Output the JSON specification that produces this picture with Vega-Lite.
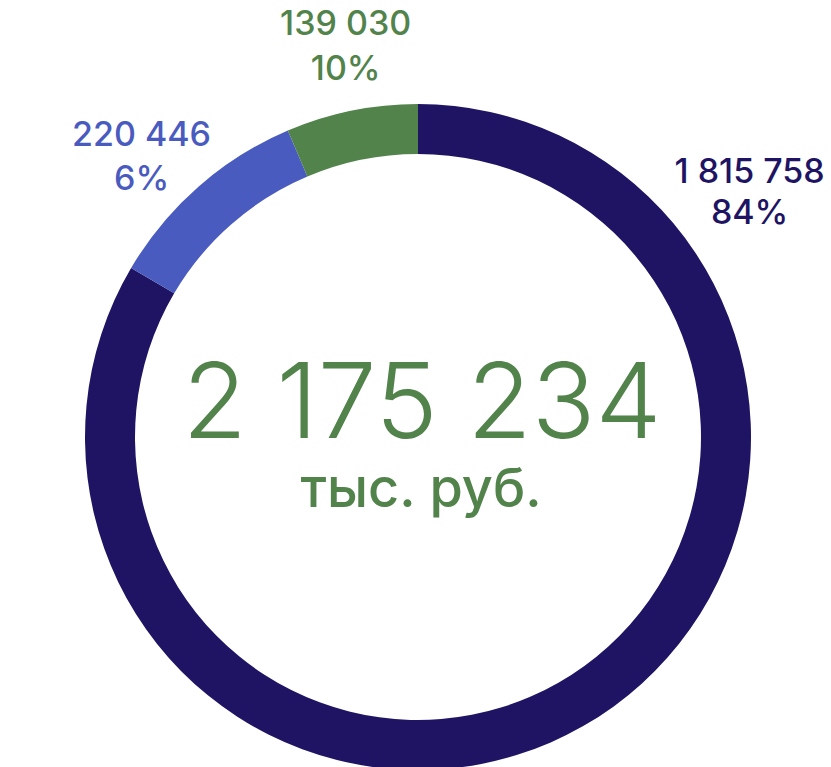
{
  "$schema": "https://vega.github.io/schema/vega-lite/v6.json",
  "width": 826,
  "height": 660,
  "autosize": "none",
  "padding": {"left": 5, "top": 107, "right": 0, "bottom": 0},
  "background": "white",
  "config": {
    "view": {"stroke": null},
    "locale": {"number": {"decimal": ",", "thousands": " ", "grouping": [3], "currency": ["", ""]}}
  },
  "data": {
    "values": [
      {"segment": "a", "amount": 1815758, "label": "1 815 758\n84%"},
      {"segment": "b", "amount": 220446, "label": "220 446\n6%"},
      {"segment": "c", "amount": 139030, "label": "139 030\n10%"}
    ]
  },
  "layer": [
    {
      "mark": {"type": "arc", "innerRadius": 283, "outerRadius": 333},
      "encoding": {
        "theta": {"field": "amount", "type": "quantitative", "stack": true},
        "color": {
          "field": "segment",
          "type": "nominal",
          "scale": {"domain": ["a", "b", "c"], "range": ["#1e1463", "#4a5bbf", "#51834b"]},
          "legend": null
        },
        "order": {"field": "amount", "type": "quantitative", "sort": "descending"}
      }
    },
    {
      "transform": [{"filter": "datum.segment === 'a'"}],
      "mark": {"type": "text", "theta": 0.9355, "radius": 412, "dy": -20, "font": "Inter", "fontSize": 34, "fontWeight": 500, "lineBreak": "\n", "lineHeight": 41, "baseline": "middle", "align": "center", "color": "#1e1463"},
      "encoding": {"text": {"field": "label", "type": "nominal"}}
    },
    {
      "transform": [{"filter": "datum.segment === 'b'"}],
      "mark": {"type": "text", "theta": 5.503, "radius": 393, "dy": -22, "font": "Inter", "fontSize": 34, "fontWeight": 500, "lineBreak": "\n", "lineHeight": 44, "baseline": "middle", "align": "center", "color": "#4a5bbf"},
      "encoding": {"text": {"field": "label", "type": "nominal"}}
    },
    {
      "transform": [{"filter": "datum.segment === 'c'"}],
      "mark": {"type": "text", "theta": 6.1, "radius": 397, "dy": -22, "font": "Inter", "fontSize": 34, "fontWeight": 500, "lineBreak": "\n", "lineHeight": 45, "baseline": "middle", "align": "center", "color": "#51834b"},
      "encoding": {"text": {"field": "label", "type": "nominal"}}
    },
    {
      "mark": {"type": "text", "font": "Inter", "fontSize": 105, "fontWeight": 300, "baseline": "alphabetic", "align": "center", "dx": 4, "dy": 1, "color": "#51834b"},
      "encoding": {"text": {"aggregate": "sum", "field": "amount", "type": "quantitative", "format": ",d"}}
    },
    {
      "data": {"values": [{"unit": "тыс. руб."}]},
      "mark": {"type": "text", "font": "Inter", "fontSize": 54, "fontWeight": 500, "baseline": "alphabetic", "align": "center", "dx": 3, "dy": 70, "color": "#51834b"},
      "encoding": {"text": {"field": "unit", "type": "nominal"}}
    }
  ]
}
